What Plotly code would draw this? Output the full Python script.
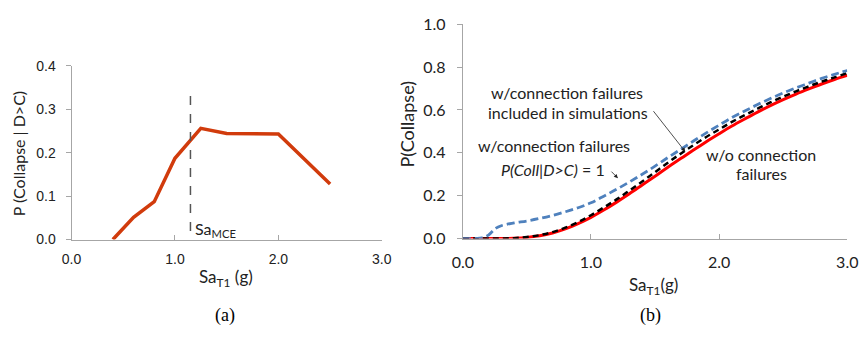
import plotly.graph_objects as go

# ---- Panel (a) data ----
sa_a = [0.4, 0.6, 0.8, 1.0, 1.25, 1.5, 2.0, 2.5]
p_a = [0.0, 0.051, 0.087, 0.187, 0.256, 0.244, 0.243, 0.128]
sa_mce = 1.15

# ---- Panel (b) data ----
sa_b = [0.0, 0.1, 0.2, 0.3, 0.4, 0.5, 0.6, 0.7, 0.8, 0.9, 1.0, 1.1, 1.2, 1.3, 1.4, 1.5,
        1.6, 1.7, 1.8, 1.9, 2.0, 2.1, 2.2, 2.3, 2.4, 2.5, 2.6, 2.7, 2.8, 2.9, 3.0]
p_without = [0.0, 0.0, 0.0, 0.0003, 0.0016, 0.0054, 0.013, 0.026, 0.045, 0.070, 0.099, 0.133,
             0.170, 0.209, 0.250, 0.291, 0.333, 0.373, 0.413, 0.452, 0.489, 0.525, 0.558,
             0.590, 0.620, 0.648, 0.674, 0.698, 0.721, 0.742, 0.761]
p_pcoll1 = [0.0, 0.0, 0.0, 0.0005, 0.002, 0.007, 0.016, 0.030, 0.051, 0.077, 0.109, 0.145,
            0.183, 0.224, 0.266, 0.310, 0.354, 0.396, 0.436, 0.474, 0.509, 0.544, 0.576,
            0.606, 0.635, 0.662, 0.687, 0.710, 0.732, 0.752, 0.772]
sa_blue = [0.0, 0.1, 0.15, 0.2, 0.25, 0.3, 0.4, 0.5, 0.6, 0.7, 0.8, 0.9, 1.0, 1.1, 1.2, 1.3,
           1.4, 1.5, 1.6, 1.7, 1.8, 1.9, 2.0, 2.1, 2.2, 2.3, 2.4, 2.5, 2.6, 2.7, 2.8, 2.9, 3.0]
p_sim = [0.0, 0.001, 0.004, 0.016, 0.045, 0.060, 0.073, 0.082, 0.094, 0.108, 0.125, 0.144,
         0.167, 0.198, 0.230, 0.264, 0.300, 0.338, 0.378, 0.416, 0.455, 0.493, 0.529, 0.564,
         0.595, 0.625, 0.653, 0.679, 0.703, 0.725, 0.747, 0.766, 0.784]

W, H = 868, 343
def px(x):
    return x / W
def py(y):
    return 1 - y / H

GILL = "Lato, 'Open Sans', sans-serif"
ARIAL = "'Liberation Sans', Arial, sans-serif"
SERIF = "'Liberation Serif', 'Times New Roman', serif"

fig = go.Figure()
fig.add_trace(go.Scatter(x=sa_a, y=p_a, mode="lines", line=dict(color="#D13B0C", width=3.5),
                         xaxis="x", yaxis="y", showlegend=False))
fig.add_trace(go.Scatter(x=[sa_mce, sa_mce], y=[-0.022, 0.34], mode="lines",
                         line=dict(color="#555555", width=1.5, dash="dash"),
                         xaxis="x", yaxis="y", showlegend=False, cliponaxis=False))

fig.add_trace(go.Scatter(x=sa_b, y=p_without, mode="lines", line=dict(color="#FF0000", width=3, shape="spline"),
                         xaxis="x2", yaxis="y2", showlegend=False))
fig.add_trace(go.Scatter(x=sa_b, y=p_pcoll1, mode="lines",
                         line=dict(color="#000000", width=2.5, dash="6px,4px", shape="spline"),
                         xaxis="x2", yaxis="y2", showlegend=False))
fig.add_trace(go.Scatter(x=sa_blue, y=p_sim, mode="lines",
                         line=dict(color="#4F81BD", width=2.8, dash="8px,4px", shape="spline"),
                         xaxis="x2", yaxis="y2", showlegend=False))

axis_a = dict(showgrid=False, zeroline=False, showline=True, linecolor="#A6A6A6", linewidth=1,
              tickcolor="#A6A6A6", tickfont=dict(family=ARIAL, size=14, color="#222222"),
              fixedrange=True)
axis_b = dict(showgrid=False, zeroline=False, showline=True, linecolor="#A6A6A6", linewidth=1,
              tickcolor="#A6A6A6", tickfont=dict(family=GILL, size=16, color="#222222"),
              fixedrange=True)

fig.update_layout(
    width=W, height=H, margin=dict(l=0, r=0, t=0, b=0),
    paper_bgcolor="white", plot_bgcolor="white",
    xaxis=dict(domain=[px(62), px(380)], range=[0, 3], tickvals=[0, 1, 2, 3],
               ticktext=["0.0", "1.0", "2.0", "3.0"], ticks="inside", ticklen=5,
               anchor="y", ticklabelstandoff=7, **axis_a),
    yaxis=dict(domain=[py(243), py(59)], range=[0, 0.4], tickvals=[0, 0.1, 0.2, 0.3, 0.4],
               ticktext=["0.0", "0.1", "0.2", "0.3", "0.4"], ticks="outside", ticklen=5,
               anchor="x", ticklabelstandoff=7, **axis_a),
    xaxis2=dict(domain=[px(463), px(857)], range=[0, 3], tickvals=[0, 1, 2, 3],
                ticktext=["0.0", "1.0", "2.0", "3.0"], ticks="inside", ticklen=5,
                anchor="y2", ticklabelstandoff=9, **axis_b),
    yaxis2=dict(domain=[py(242), py(15)], range=[0, 1], tickvals=[0, 0.2, 0.4, 0.6, 0.8, 1.0],
                ticktext=["0.0", "0.2", "0.4", "0.6", "0.8", "1.0"], ticks="outside", ticklen=5,
                anchor="x2", ticklabelstandoff=8, **axis_b),
)

def ann(text, x, y, size=14, family=GILL, angle=0, color="#222222", xanchor="center", xshift=0):
    fig.add_annotation(text=text, x=px(x), y=py(y), xref="paper", yref="paper", showarrow=False,
                       font=dict(family=family, size=size, color=color), textangle=angle,
                       xanchor=xanchor, yanchor="middle", xshift=xshift)

# axis titles
ann("P (Collapse | D&gt;C)", 18, 152, size=16, angle=-90, xshift=-10)
ann("Sa<sub>T1</sub> (g)", 220, 284, size=17)
ann("Sa<sub>MCE</sub>", 187, 232, size=16, xanchor="left")
ann("P(Collapse)", 406, 121, size=18, angle=-90)
ann("Sa<sub>T1</sub>(g)", 658, 292, size=17)
ann("(a)", 219, 323, size=18, family=SERIF, color="#000")
ann("(b)", 655, 323, size=18, family=SERIF, color="#000")

# panel b labels
ann("w/connection failures", 570, 87, size=16)
ann("included in simulations", 571, 108, size=16)
ann("w/connection failures", 556, 143, size=16)
ann("<i>P(Coll|D&gt;C)</i> = 1", 555, 169, size=16)
ann("w/o connection", 769, 153, size=16)
ann("failures", 769, 173, size=16)

# arrows (head position in paper coords, tail offset in pixels)
fig.add_annotation(x=px(691), y=py(150), ax=-33, ay=-42, xref="paper", yref="paper",
                   axref="pixel", ayref="pixel", showarrow=True, arrowhead=2, arrowsize=1,
                   arrowwidth=0.8, arrowcolor="#222", text="")
fig.add_annotation(x=px(622), y=py(178), ax=-8, ay=-8, xref="paper", yref="paper",
                   axref="pixel", ayref="pixel", showarrow=True, arrowhead=2, arrowsize=1,
                   arrowwidth=0.8, arrowcolor="#222", text="")

fig.write_html("out.html")
